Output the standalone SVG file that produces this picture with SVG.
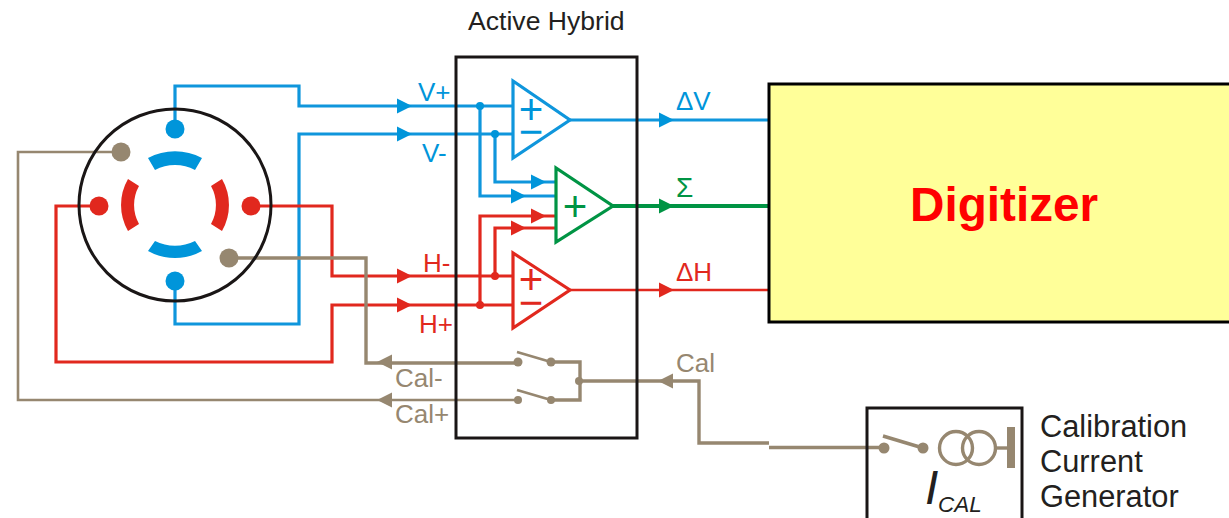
<svg xmlns="http://www.w3.org/2000/svg" width="1229" height="518" viewBox="0 0 1229 518">
<style>
text{font-family:"Liberation Sans",Arial,sans-serif}
.b{stroke:#0f96dc;fill:none;stroke-width:3.2}
.r{stroke:#e1281e;fill:none;stroke-width:3.2}
.g{stroke:#009444;fill:none;stroke-width:4}
.t{stroke:#968770;fill:none;stroke-width:3.4}
.fb{fill:#0095da}.fr{fill:#e1281e}.fg{fill:#009444}.ft{fill:#968770}
.box{fill:none;stroke:#1a1616;stroke-width:3}
.l{font-size:26px}
.k{font-size:30.8px;fill:#231f20}
.s{font-size:42px}
</style>
<defs>
<path id="ar" d="M0-7.5L15 0L0 7.5Z"/>
<path id="al" d="M0 0L15-7.5V7.5Z"/>
</defs>
<g id="connectors">
<path class="b" d="M175 120V86H299V106H400"/>
<path class="b" d="M175 290V324H299V134H400"/>
<path class="b" d="M400 106H513M400 134H513"/>
<path class="b" d="M480 106V196H556M495 134V182H556"/>
<path class="b" d="M570 120H768"/>
<path class="g" d="M613 206H768"/>
<path class="r" style="stroke-width:2.6" d="M570 290H768"/>
<path class="r" d="M251 206H332V276H513"/>
<path class="r" d="M99 206H56V362H332V305H513"/>
<path class="r" d="M480 305V216H555M495 276V228H555"/>
<path class="t" d="M229 258H366V363H518"/>
<path class="t" style="stroke-width:2.6" d="M121 152H18V400H518"/>
<path class="t" d="M551 362H580V400H551M580 381H699V443H769"/>
<path class="t" d="M769 447.5H885"/>
<g class="fb"><use href="#ar" x="397" y="106"/><use href="#ar" x="397" y="134"/><use href="#ar" x="531" y="182"/><use href="#ar" x="511" y="196"/><use href="#ar" x="659" y="120"/></g>
<g class="fr"><use href="#ar" x="397" y="276"/><use href="#ar" x="397" y="305"/><use href="#ar" x="531" y="216"/><use href="#ar" x="511" y="228"/><use href="#ar" x="659" y="290"/></g>
<g class="fg"><use href="#ar" x="659" y="206"/></g>
<g class="ft"><use href="#al" x="377" y="362"/><use href="#al" x="377" y="400"/><use href="#al" x="658" y="381"/></g>
<g class="fb"><circle cx="480" cy="106" r="4"/><circle cx="495" cy="134" r="4"/></g>
<g class="fr"><circle cx="480" cy="305" r="4"/><circle cx="495" cy="276" r="4"/></g>
</g>
<g id="connector-disc">
<circle cx="175" cy="205" r="96" fill="none" stroke="#1a1616" stroke-width="3"/>
<circle class="fb" cx="175" cy="129" r="9.5"/><circle class="fb" cx="175" cy="281" r="9.5"/>
<circle class="fr" cx="99" cy="206" r="9.5"/><circle class="fr" cx="251" cy="206" r="9.5"/>
<circle class="ft" cx="121" cy="152" r="9.5"/><circle class="ft" cx="229" cy="258" r="9.5"/>
<path class="fb" d="M148 158A58 58 0 0 1 202 158L195 170A42 42 0 0 0 155 170Z"/>
<path class="fb" d="M148 251A55 55 0 0 0 202 251L195 241A45 45 0 0 1 155 241Z"/>
<path class="fr" d="M128 179A52 52 0 0 0 128 231L139 224A39 39 0 0 1 139 186Z"/>
<path class="fr" d="M222 179A52 52 0 0 1 222 231L211 224A39 39 0 0 0 211 186Z"/>
</g>
<g id="active-hybrid">
<rect class="box" x="456" y="57" width="181" height="381"/>
<text x="468" y="30" font-size="26.6" fill="#231f20">Active Hybrid</text>
</g>
<g id="amp-v">
<path class="b" d="M513 81V158L570 120Z"/>
<text class="s fb" x="531" y="124" text-anchor="middle">+</text>
<text class="s fb" x="531" y="146" text-anchor="middle">−</text>
</g>
<g id="amp-sum">
<path class="g" style="stroke-width:3.2" d="M556 168V242L613 206Z"/>
<text class="s fg" x="575" y="221" text-anchor="middle">+</text>
</g>
<g id="amp-h">
<path class="r" d="M513 253V328L570 290Z"/>
<text class="s fr" x="531" y="294" text-anchor="middle">+</text>
<text class="s fr" x="531" y="317" text-anchor="middle">−</text>
</g>
<g id="switches">
<circle class="ft" cx="518" cy="362" r="4.5"/><circle class="ft" cx="551" cy="362" r="4.5"/>
<circle class="ft" cx="518" cy="400" r="4"/><circle class="ft" cx="551" cy="400" r="4"/>
<circle class="ft" cx="579" cy="381" r="4"/>
<path class="t" style="stroke-width:2.6" d="M517 352L551 362M517 390L551 400"/>
</g>
<g id="digitizer">
<rect x="769" y="84" width="470" height="238" fill="#ffff99" stroke="#000" stroke-width="3"/>
<text x="910" y="221" font-size="47.7" font-weight="700" fill="#ff0000">Digitizer</text>
</g>
<g id="generator">
<rect class="box" x="867" y="408" width="155" height="120"/>
<circle class="ft" cx="884" cy="448" r="5.5"/><circle class="ft" cx="923" cy="448" r="5.5"/>
<path class="t" d="M883 436L923 448"/>
<circle class="t" cx="956" cy="448" r="16.5"/><circle class="t" cx="979" cy="448" r="16.5"/>
<path class="t" d="M995 448H1008"/>
<rect class="ft" x="1007" y="427" width="8" height="41"/>
<text x="925" y="504" font-size="48" font-style="italic" fill="#231f20">I</text>
<text x="938" y="512" font-size="22.5" font-style="italic" fill="#231f20">CAL</text>
</g>
<g id="labels">
<text class="l fb" x="418" y="101">V+</text>
<text class="l fb" x="422" y="162">V-</text>
<text class="l fr" x="423" y="272">H-</text>
<text class="l fr" x="419" y="333">H+</text>
<text class="l fb" x="676" y="110">ΔV</text>
<text class="l fg" x="676" y="197" style="font-size:28px">Σ</text>
<text class="l fr" x="676" y="281">ΔH</text>
<text class="l ft" x="676" y="372">Cal</text>
<text class="l ft" x="395" y="387">Cal-</text>
<text class="l ft" x="395" y="423">Cal+</text>
<text class="k" x="1040" y="437">Calibration</text>
<text class="k" x="1040" y="472">Current</text>
<text class="k" x="1040" y="507">Generator</text>
</g>
</svg>
